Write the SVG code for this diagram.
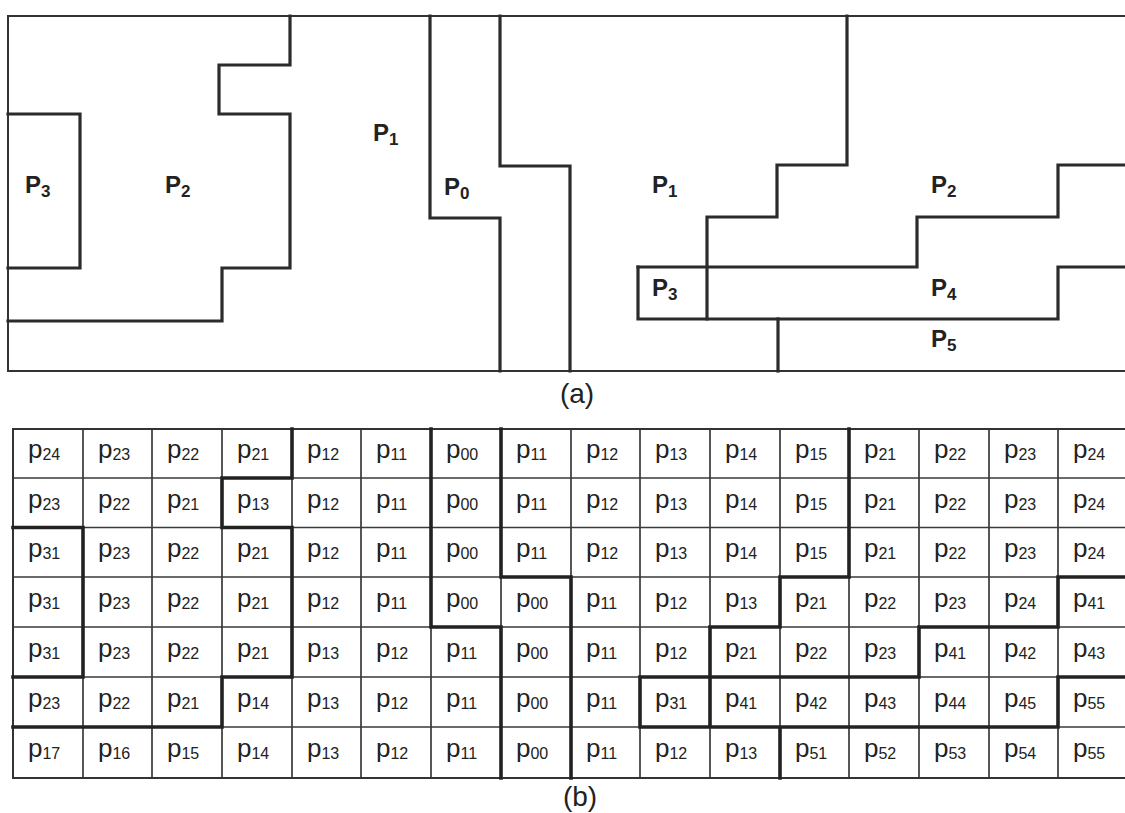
<svg xmlns="http://www.w3.org/2000/svg" width="1125" height="813" viewBox="0 0 1125 813">
<style>
.frame{fill:none;stroke:#333;stroke-width:2}
.reg{fill:none;stroke:#2b2b2b;stroke-width:3.2;stroke-linejoin:miter;stroke-linecap:square}
.thin{fill:none;stroke:#3a3a3a;stroke-width:1.7}
.bold{fill:none;stroke:#222;stroke-width:3.6;stroke-linecap:square}
.L{font-family:"Liberation Sans",Arial,sans-serif;font-weight:bold;font-size:24px;fill:#222}
.Ls{font-size:17px}
.c{font-family:"Liberation Sans",Arial,sans-serif;font-size:26px;fill:#222}
.s{font-size:16px}
.cap{font-family:"Liberation Sans",Arial,sans-serif;font-size:28px;fill:#222;text-anchor:middle}
</style>
<rect width="1125" height="813" fill="#fff"/>

<g id="partA">
<rect class="frame" x="8" y="16" width="1130" height="355"/>
<g id="connectors">
<path class="reg" d="M8,114 H80 V268 H8"/>
<path class="reg" d="M290,16 V65 H219 V114 H290 V268 H222 V321 H8"/>
<path class="reg" d="M430,16 V218 H500 V371"/>
<path class="reg" d="M500,16 V166 H570 V371"/>
<path class="reg" d="M847,16 V165 H777 V217 H707 V319"/>
<path class="reg" d="M638,267 H917 V217 H1058 V165 H1130"/>
<path class="reg" d="M638,267 V319 H1058 V267 H1130"/>
<path class="reg" d="M778,319 V371"/>
</g>
<g id="a-P3L"><text class="L" x="25" y="193">P<tspan class="Ls" dy="4">3</tspan></text></g>
<g id="a-P2L"><text class="L" x="165" y="193">P<tspan class="Ls" dy="4">2</tspan></text></g>
<g id="a-P1L"><text class="L" x="373" y="141">P<tspan class="Ls" dy="4">1</tspan></text></g>
<g id="a-P0"><text class="L" x="444" y="195">P<tspan class="Ls" dy="4">0</tspan></text></g>
<g id="a-P1R"><text class="L" x="652" y="193">P<tspan class="Ls" dy="4">1</tspan></text></g>
<g id="a-P2R"><text class="L" x="931" y="193">P<tspan class="Ls" dy="4">2</tspan></text></g>
<g id="a-P3R"><text class="L" x="652" y="296">P<tspan class="Ls" dy="4">3</tspan></text></g>
<g id="a-P4"><text class="L" x="931" y="296">P<tspan class="Ls" dy="4">4</tspan></text></g>
<g id="a-P5"><text class="L" x="931" y="347">P<tspan class="Ls" dy="4">5</tspan></text></g>
<text class="cap" x="577" y="403">(a)</text>
</g>

<g id="partB">
<g id="grid">
<path class="thin" d="M83,429V778M152,429V778M222,429V778M292,429V778M361,429V778M431,429V778M501,429V778M571,429V778M640,429V778M710,429V778M780,429V778M849,429V778M919,429V778M989,429V778M1058,429V778M13,478H1130M13,527.5H1130M13,577H1130M13,627H1130M13,677H1130M13,727H1130"/>
<rect class="frame" x="13" y="429" width="1125" height="349"/>
<path class="bold" d="M292,429V478M431,429V478M501,429V478M849,429V478
M222,478V527.5M431,478V527.5M501,478V527.5M849,478V527.5
M83,527.5V577M292,527.5V577M431,527.5V577M501,527.5V577M849,527.5V577
M83,577V627M292,577V627M431,577V627M571,577V627M780,577V627M1058,577V627
M83,627V677M292,627V677M501,627V677M571,627V677M710,627V677M919,627V677
M222,677V727M501,677V727M571,677V727M640,677V727M710,677V727M1058,677V727
M501,727V778M571,727V778M780,727V778
M222,478H292
M13,527.5H83M222,527.5H292
M501,577H571M780,577H849M1058,577H1128
M431,627H501M710,627H780M919,627H1058
M13,677H83M222,677H292M640,677H919M1058,677H1128
M13,727H222M640,727H1058"/>
</g>
<g id="cells">
<text class="c" x="28" y="458">p<tspan class="s" dy="2">24</tspan></text>
<text class="c" x="98" y="458">p<tspan class="s" dy="2">23</tspan></text>
<text class="c" x="167" y="458">p<tspan class="s" dy="2">22</tspan></text>
<text class="c" x="237" y="458">p<tspan class="s" dy="2">21</tspan></text>
<text class="c" x="307" y="458">p<tspan class="s" dy="2">12</tspan></text>
<text class="c" x="376" y="458">p<tspan class="s" dy="2">11</tspan></text>
<text class="c" x="446" y="458">p<tspan class="s" dy="2">00</tspan></text>
<text class="c" x="516" y="458">p<tspan class="s" dy="2">11</tspan></text>
<text class="c" x="586" y="458">p<tspan class="s" dy="2">12</tspan></text>
<text class="c" x="655" y="458">p<tspan class="s" dy="2">13</tspan></text>
<text class="c" x="725" y="458">p<tspan class="s" dy="2">14</tspan></text>
<text class="c" x="795" y="458">p<tspan class="s" dy="2">15</tspan></text>
<text class="c" x="864" y="458">p<tspan class="s" dy="2">21</tspan></text>
<text class="c" x="934" y="458">p<tspan class="s" dy="2">22</tspan></text>
<text class="c" x="1004" y="458">p<tspan class="s" dy="2">23</tspan></text>
<text class="c" x="1073" y="458">p<tspan class="s" dy="2">24</tspan></text>

<text class="c" x="28" y="508">p<tspan class="s" dy="2">23</tspan></text>
<text class="c" x="98" y="508">p<tspan class="s" dy="2">22</tspan></text>
<text class="c" x="167" y="508">p<tspan class="s" dy="2">21</tspan></text>
<text class="c" x="237" y="508">p<tspan class="s" dy="2">13</tspan></text>
<text class="c" x="307" y="508">p<tspan class="s" dy="2">12</tspan></text>
<text class="c" x="376" y="508">p<tspan class="s" dy="2">11</tspan></text>
<text class="c" x="446" y="508">p<tspan class="s" dy="2">00</tspan></text>
<text class="c" x="516" y="508">p<tspan class="s" dy="2">11</tspan></text>
<text class="c" x="586" y="508">p<tspan class="s" dy="2">12</tspan></text>
<text class="c" x="655" y="508">p<tspan class="s" dy="2">13</tspan></text>
<text class="c" x="725" y="508">p<tspan class="s" dy="2">14</tspan></text>
<text class="c" x="795" y="508">p<tspan class="s" dy="2">15</tspan></text>
<text class="c" x="864" y="508">p<tspan class="s" dy="2">21</tspan></text>
<text class="c" x="934" y="508">p<tspan class="s" dy="2">22</tspan></text>
<text class="c" x="1004" y="508">p<tspan class="s" dy="2">23</tspan></text>
<text class="c" x="1073" y="508">p<tspan class="s" dy="2">24</tspan></text>

<text class="c" x="28" y="557">p<tspan class="s" dy="2">31</tspan></text>
<text class="c" x="98" y="557">p<tspan class="s" dy="2">23</tspan></text>
<text class="c" x="167" y="557">p<tspan class="s" dy="2">22</tspan></text>
<text class="c" x="237" y="557">p<tspan class="s" dy="2">21</tspan></text>
<text class="c" x="307" y="557">p<tspan class="s" dy="2">12</tspan></text>
<text class="c" x="376" y="557">p<tspan class="s" dy="2">11</tspan></text>
<text class="c" x="446" y="557">p<tspan class="s" dy="2">00</tspan></text>
<text class="c" x="516" y="557">p<tspan class="s" dy="2">11</tspan></text>
<text class="c" x="586" y="557">p<tspan class="s" dy="2">12</tspan></text>
<text class="c" x="655" y="557">p<tspan class="s" dy="2">13</tspan></text>
<text class="c" x="725" y="557">p<tspan class="s" dy="2">14</tspan></text>
<text class="c" x="795" y="557">p<tspan class="s" dy="2">15</tspan></text>
<text class="c" x="864" y="557">p<tspan class="s" dy="2">21</tspan></text>
<text class="c" x="934" y="557">p<tspan class="s" dy="2">22</tspan></text>
<text class="c" x="1004" y="557">p<tspan class="s" dy="2">23</tspan></text>
<text class="c" x="1073" y="557">p<tspan class="s" dy="2">24</tspan></text>

<text class="c" x="28" y="607">p<tspan class="s" dy="2">31</tspan></text>
<text class="c" x="98" y="607">p<tspan class="s" dy="2">23</tspan></text>
<text class="c" x="167" y="607">p<tspan class="s" dy="2">22</tspan></text>
<text class="c" x="237" y="607">p<tspan class="s" dy="2">21</tspan></text>
<text class="c" x="307" y="607">p<tspan class="s" dy="2">12</tspan></text>
<text class="c" x="376" y="607">p<tspan class="s" dy="2">11</tspan></text>
<text class="c" x="446" y="607">p<tspan class="s" dy="2">00</tspan></text>
<text class="c" x="516" y="607">p<tspan class="s" dy="2">00</tspan></text>
<text class="c" x="586" y="607">p<tspan class="s" dy="2">11</tspan></text>
<text class="c" x="655" y="607">p<tspan class="s" dy="2">12</tspan></text>
<text class="c" x="725" y="607">p<tspan class="s" dy="2">13</tspan></text>
<text class="c" x="795" y="607">p<tspan class="s" dy="2">21</tspan></text>
<text class="c" x="864" y="607">p<tspan class="s" dy="2">22</tspan></text>
<text class="c" x="934" y="607">p<tspan class="s" dy="2">23</tspan></text>
<text class="c" x="1004" y="607">p<tspan class="s" dy="2">24</tspan></text>
<text class="c" x="1073" y="607">p<tspan class="s" dy="2">41</tspan></text>

<text class="c" x="28" y="657">p<tspan class="s" dy="2">31</tspan></text>
<text class="c" x="98" y="657">p<tspan class="s" dy="2">23</tspan></text>
<text class="c" x="167" y="657">p<tspan class="s" dy="2">22</tspan></text>
<text class="c" x="237" y="657">p<tspan class="s" dy="2">21</tspan></text>
<text class="c" x="307" y="657">p<tspan class="s" dy="2">13</tspan></text>
<text class="c" x="376" y="657">p<tspan class="s" dy="2">12</tspan></text>
<text class="c" x="446" y="657">p<tspan class="s" dy="2">11</tspan></text>
<text class="c" x="516" y="657">p<tspan class="s" dy="2">00</tspan></text>
<text class="c" x="586" y="657">p<tspan class="s" dy="2">11</tspan></text>
<text class="c" x="655" y="657">p<tspan class="s" dy="2">12</tspan></text>
<text class="c" x="725" y="657">p<tspan class="s" dy="2">21</tspan></text>
<text class="c" x="795" y="657">p<tspan class="s" dy="2">22</tspan></text>
<text class="c" x="864" y="657">p<tspan class="s" dy="2">23</tspan></text>
<text class="c" x="934" y="657">p<tspan class="s" dy="2">41</tspan></text>
<text class="c" x="1004" y="657">p<tspan class="s" dy="2">42</tspan></text>
<text class="c" x="1073" y="657">p<tspan class="s" dy="2">43</tspan></text>

<text class="c" x="28" y="707">p<tspan class="s" dy="2">23</tspan></text>
<text class="c" x="98" y="707">p<tspan class="s" dy="2">22</tspan></text>
<text class="c" x="167" y="707">p<tspan class="s" dy="2">21</tspan></text>
<text class="c" x="237" y="707">p<tspan class="s" dy="2">14</tspan></text>
<text class="c" x="307" y="707">p<tspan class="s" dy="2">13</tspan></text>
<text class="c" x="376" y="707">p<tspan class="s" dy="2">12</tspan></text>
<text class="c" x="446" y="707">p<tspan class="s" dy="2">11</tspan></text>
<text class="c" x="516" y="707">p<tspan class="s" dy="2">00</tspan></text>
<text class="c" x="586" y="707">p<tspan class="s" dy="2">11</tspan></text>
<text class="c" x="655" y="707">p<tspan class="s" dy="2">31</tspan></text>
<text class="c" x="725" y="707">p<tspan class="s" dy="2">41</tspan></text>
<text class="c" x="795" y="707">p<tspan class="s" dy="2">42</tspan></text>
<text class="c" x="864" y="707">p<tspan class="s" dy="2">43</tspan></text>
<text class="c" x="934" y="707">p<tspan class="s" dy="2">44</tspan></text>
<text class="c" x="1004" y="707">p<tspan class="s" dy="2">45</tspan></text>
<text class="c" x="1073" y="707">p<tspan class="s" dy="2">55</tspan></text>

<text class="c" x="28" y="757">p<tspan class="s" dy="2">17</tspan></text>
<text class="c" x="98" y="757">p<tspan class="s" dy="2">16</tspan></text>
<text class="c" x="167" y="757">p<tspan class="s" dy="2">15</tspan></text>
<text class="c" x="237" y="757">p<tspan class="s" dy="2">14</tspan></text>
<text class="c" x="307" y="757">p<tspan class="s" dy="2">13</tspan></text>
<text class="c" x="376" y="757">p<tspan class="s" dy="2">12</tspan></text>
<text class="c" x="446" y="757">p<tspan class="s" dy="2">11</tspan></text>
<text class="c" x="516" y="757">p<tspan class="s" dy="2">00</tspan></text>
<text class="c" x="586" y="757">p<tspan class="s" dy="2">11</tspan></text>
<text class="c" x="655" y="757">p<tspan class="s" dy="2">12</tspan></text>
<text class="c" x="725" y="757">p<tspan class="s" dy="2">13</tspan></text>
<text class="c" x="795" y="757">p<tspan class="s" dy="2">51</tspan></text>
<text class="c" x="864" y="757">p<tspan class="s" dy="2">52</tspan></text>
<text class="c" x="934" y="757">p<tspan class="s" dy="2">53</tspan></text>
<text class="c" x="1004" y="757">p<tspan class="s" dy="2">54</tspan></text>
<text class="c" x="1073" y="757">p<tspan class="s" dy="2">55</tspan></text>
</g>
<text class="cap" x="580" y="806">(b)</text>
</g>
</svg>
